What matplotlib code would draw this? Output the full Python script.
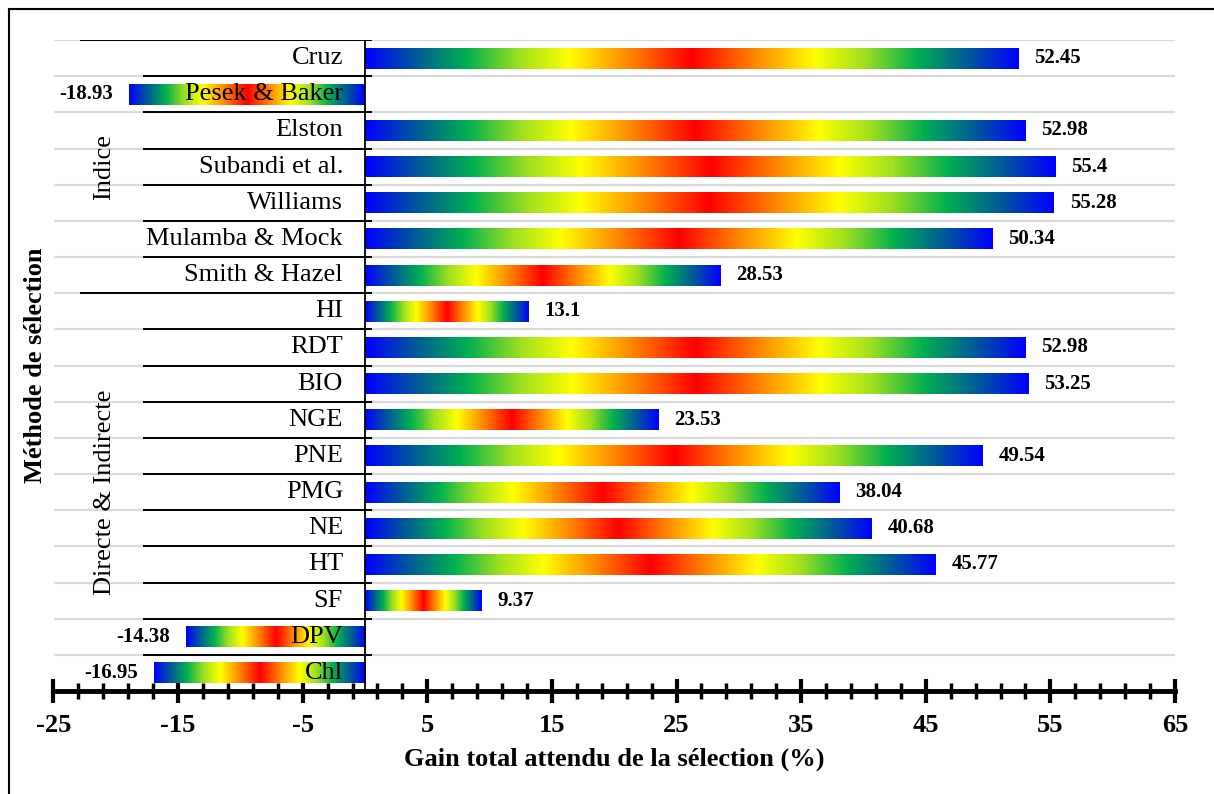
import numpy as np
import matplotlib.pyplot as plt
from matplotlib.colors import LinearSegmentedColormap
from matplotlib.lines import Line2D
import matplotlib.transforms as mtransforms

# ---- données ----
methodes = ["Cruz", "Pesek & Baker", "Elston", "Subandi et al.", "Williams",
            "Mulamba & Mock", "Smith & Hazel", "HI", "RDT", "BIO", "NGE",
            "PNE", "PMG", "NE", "HT", "SF", "DPV", "Chl"]
gains = [52.45, -18.93, 52.98, 55.4, 55.28, 50.34, 28.53, 13.1, 52.98,
         53.25, 23.53, 49.54, 38.04, 40.68, 45.77, 9.37, -14.38, -16.95]
groupes = ["Indice", "Directe & Indirecte"]
groupe_taille = [7, 11]

SERIF = ["Liberation Serif", "DejaVu Serif"]
plt.rcParams["font.family"] = SERIF
plt.rcParams["axes.unicode_minus"] = False

W, H = 1214, 794
fig = plt.figure(figsize=(W / 100, H / 100), dpi=100)
ax = fig.add_axes([53.5 / W, 1 - 691 / H, (1175 - 53.5) / W, (691 - 40) / H])

# dégradé bleu-vert-jaune-rouge symétrique
cmap = LinearSegmentedColormap.from_list(
    "grad", [(0.0, "#0000ff"), (0.15, "#00589a"), (0.31, "#00b050"),
             (0.47, "#9ee020"), (0.625, "#ffff00"), (0.8, "#ff8c00"),
             (1.0, "#ff0000")])
t = np.linspace(0, 1, 600)
ramp = (1 - np.abs(2 * t - 1))[None, :]

y = np.arange(len(methodes))
bars = ax.barh(y, gains, height=0.58, color="none", zorder=2)
for b in bars:
    x0, y0 = b.get_x(), b.get_y()
    w, h = b.get_width(), b.get_height()
    xa, xb = min(x0, x0 + w), max(x0, x0 + w)
    im = ax.imshow(ramp, cmap=cmap, vmin=0, vmax=1, aspect="auto",
                   interpolation="bilinear", extent=[xa, xb, y0 + h, y0],
                   zorder=2)
    im.set_clip_path(b)

ax.set_xlim(-25, 65)
ax.set_ylim(len(methodes) - 0.5, -0.5)

# grille horizontale grise entre les lignes
ax.set_yticks(np.arange(-0.5, len(methodes), 1), minor=True)
ax.set_yticks([])
ax.grid(which="minor", axis="y", color="#d9d9d9", lw=1.6, zorder=0)
ax.tick_params(axis="y", which="both", left=False, labelleft=False)

for s in ["top", "right", "left"]:
    ax.spines[s].set_visible(False)
ax.spines["bottom"].set_linewidth(3.5)

ax.set_xticks(np.arange(-25, 66, 10))
ax.set_xticks(np.arange(-25, 66, 2), minor=True)
ax.tick_params(axis="x", which="major", direction="inout", length=17,
               width=3, pad=8, labelsize=19)
ax.tick_params(axis="x", which="minor", direction="inout", length=11,
               width=2.5)
for lab in ax.get_xticklabels():
    lab.set_fontweight("bold")
ax.set_xlabel("Gain total attendu de la sélection (%)", fontsize=19,
              fontweight="bold", labelpad=8)

# axe vertical à zéro
ax.axvline(0, color="black", lw=1.3, zorder=4)

# séparateurs noirs des catégories et des groupes
bornes_groupes = [-0.5] + list(np.cumsum(groupe_taille)[:-1] - 0.5)
for bnd in np.arange(-0.5, len(methodes) - 1, 1):
    x_start = -22.9 if bnd in bornes_groupes else -17.8
    ax.plot([x_start, 0.55], [bnd, bnd], color="black", lw=1.4, zorder=4,
            solid_capstyle="butt")

# étiquettes des méthodes
off_left = mtransforms.offset_copy(ax.transData, fig=fig, x=-22, y=0,
                                   units="dots")
for yi, name in zip(y, methodes):
    ax.text(0, yi, name, transform=off_left, ha="right", va="center",
            fontsize=19, zorder=5)

# valeurs
for yi, v in zip(y, gains):
    dx = 16 if v >= 0 else -16
    tr = mtransforms.offset_copy(ax.transData, fig=fig, x=dx, y=0,
                                 units="dots")
    ax.text(v, yi, f"{v:g}", transform=tr, ha="left" if v >= 0 else "right",
            va="center", fontsize=15, fontweight="bold", zorder=5)

# noms des groupes
debut = 0
for g, n in zip(groupes, groupe_taille):
    centre = debut + (n - 1) / 2
    ax.text(-20.9, centre, g, rotation=90, ha="center", va="center",
            fontsize=19)
    debut += n

fig.text(36 / W, 1 - 365.5 / H, "Méthode de sélection", rotation=90,
         ha="center", va="center", fontsize=19, fontweight="bold")

# cadre de la figure
fx, fy = 8.5 / W, 1 - 8.5 / H
fig.add_artist(Line2D([fx, fx], [0, fy], color="black", lw=1.5))
fig.add_artist(Line2D([fx, 1], [fy, fy], color="black", lw=1.5))

fig.savefig("out.png", dpi=100)
